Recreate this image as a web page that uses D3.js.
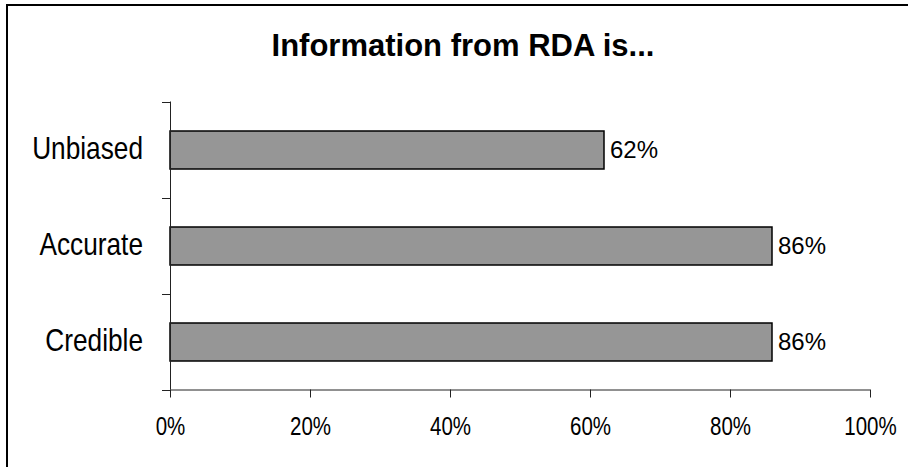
<!DOCTYPE html>
<html>
<head>
<meta charset="utf-8">
<script src="https://cdn.jsdelivr.net/npm/d3@7"></script>
<style>
  html, body { margin: 0; padding: 0; background: #fff; overflow: hidden; }
  svg { display: block; }
</style>
</head>
<body>
<script>
// Survey results: share of respondents agreeing with each statement
const categories = ["Unbiased", "Accurate", "Credible"];
const values = [62, 86, 86];
const tickValues = [0, 20, 40, 60, 80, 100];
const title = "Information from RDA is...";

const W = 908, H = 467;
const svg = d3.select("body").append("svg").attr("width", W).attr("height", H);

// Frame around the chart area
svg.append("rect")
  .attr("x", 7).attr("y", 5)
  .attr("width", W + 20).attr("height", H + 20)
  .attr("fill", "#fff").attr("stroke", "#000").attr("stroke-width", 2);

// Use a condensed face for the axis labels when one is installed,
// otherwise squeeze the regular face horizontally
const probe = svg.append("text").style("font-size", "40px").text("Unbiased Accurate");
const widthOf = fam => { probe.style("font-family", fam); return probe.node().getComputedTextLength(); };
const monoW = widthOf("monospace");
const narrowW = widthOf("'Liberation Sans Narrow', monospace");
const regularW = widthOf("'Liberation Sans', Arial, sans-serif");
probe.remove();
const hasNarrow = Math.abs(narrowW - monoW) > 1 && narrowW < regularW * 0.92;
const narrowFamily = hasNarrow ? "'Liberation Sans Narrow', sans-serif"
                               : "'Liberation Sans', Arial, sans-serif";
const squeeze = hasNarrow ? 1 : 0.82;

const x = d3.scaleLinear().domain([0, 100]).range([170, 870]);
const y = d3.scaleBand().domain(categories).range([101.5, 389.5]);
const barPad = 29;

// Title
svg.append("text")
  .attr("x", 463).attr("y", 56)
  .attr("text-anchor", "middle")
  .style("font-family", "'Liberation Sans', Arial, sans-serif")
  .style("font-weight", "bold")
  .style("font-size", "31px")
  .text(title);

// Bars
svg.append("g").selectAll("rect")
  .data(categories)
  .join("rect")
  .attr("x", x(0))
  .attr("y", d => y(d) + barPad + 0.5)
  .attr("width", (d, i) => x(values[i]) - x(0))
  .attr("height", y.bandwidth() - 2 * barPad)
  .attr("fill", "#969696")
  .attr("stroke", "#000")
  .attr("stroke-width", 1.5);

// Value labels
svg.append("g").selectAll("text")
  .data(categories)
  .join("text")
  .attr("x", (d, i) => x(values[i]) + 6)
  .attr("y", d => y(d) + y.bandwidth() / 2 + 1)
  .attr("dy", "0.33em")
  .style("font-family", "'Liberation Sans', Arial, sans-serif")
  .style("font-size", "24px")
  .attr("fill", "#000")
  .text((d, i) => values[i] + "%");

// X axis
const xAxis = svg.append("g")
  .attr("transform", `translate(0,${y.range()[1]})`)
  .call(d3.axisBottom(x).tickValues(tickValues).tickSize(8).tickPadding(20)
    .tickFormat(d => d + "%"));
xAxis.select(".domain").attr("stroke", "#222").attr("d", `M${x(0)},0.5H${x(100)}`);
xAxis.selectAll(".tick line").attr("stroke", "#222");
xAxis.selectAll(".tick text")
  .style("font-family", narrowFamily)
  .style("font-size", "25px")
  .attr("fill", "#000")
  .attr("transform", `scale(${squeeze},1)`);

// Y axis: ticks sit on the category boundaries
const boundaries = [0, 1, 2, 3].map(i => y.range()[0] + i * y.step());
const yAxis = svg.append("g").attr("transform", `translate(${x(0)},0)`);
yAxis.append("path")
  .attr("d", `M0.5,${boundaries[0]}V${boundaries[3]}`)
  .attr("stroke", "#222").attr("fill", "none");
yAxis.selectAll("line")
  .data(boundaries)
  .join("line")
  .attr("x1", -8).attr("x2", 0.5)
  .attr("y1", d => Math.round(d) + 0.5).attr("y2", d => Math.round(d) + 0.5)
  .attr("stroke", "#222");

// Category labels
yAxis.selectAll("text")
  .data(categories)
  .join("text")
  .attr("transform", d => `translate(-27,${y(d) + y.bandwidth() / 2}) scale(${squeeze},1)`)
  .attr("dy", "0.3em")
  .attr("text-anchor", "end")
  .style("font-family", narrowFamily)
  .style("font-size", "32px")
  .attr("fill", "#000")
  .text(d => d);
</script>
</body>
</html>
